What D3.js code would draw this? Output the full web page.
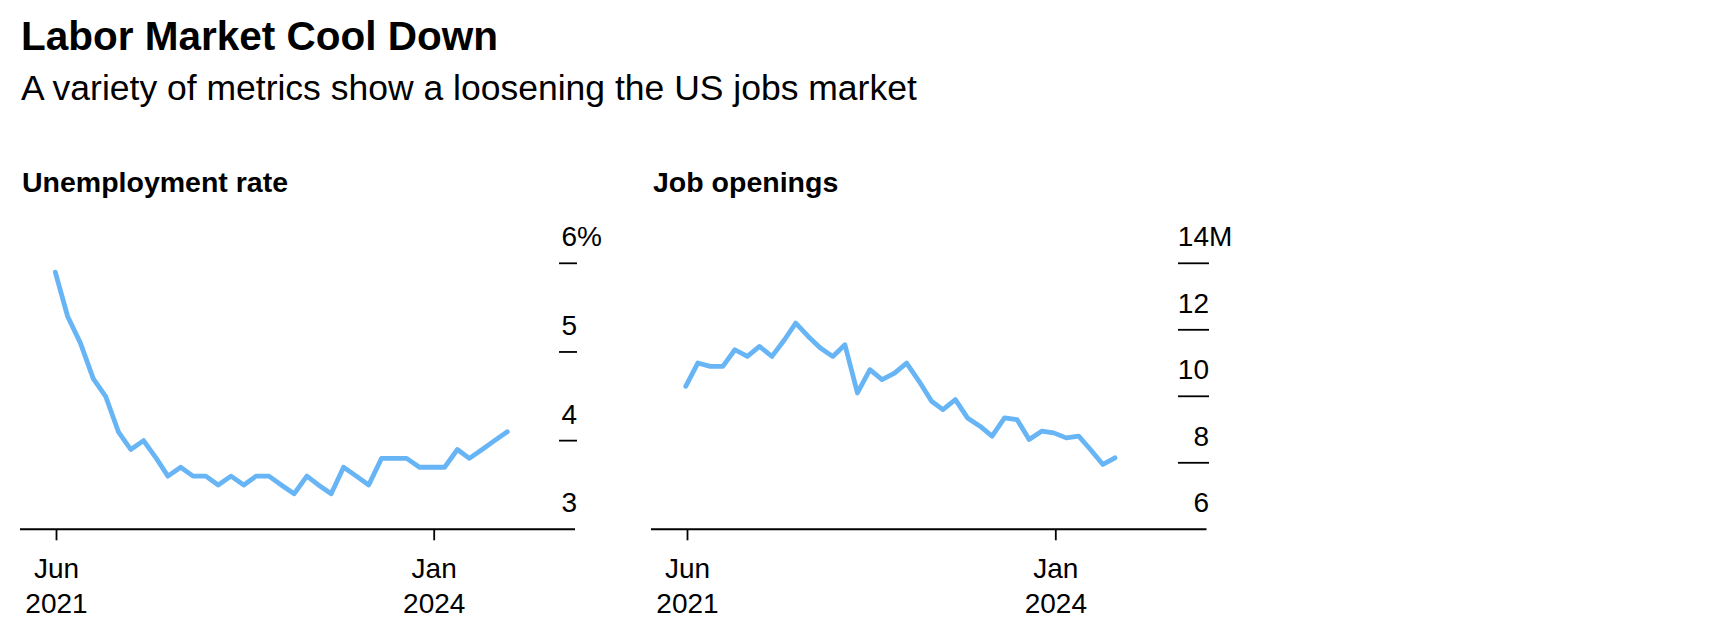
<!DOCTYPE html>
<html>
<head>
<meta charset="utf-8">
<script src="https://cdn.jsdelivr.net/npm/d3@7"></script>
<style>
  html, body { margin: 0; padding: 0; background: #fff; }
  svg { display: block; font-family: "Liberation Sans", Arial, Helvetica, sans-serif; }
</style>
</head>
<body>
<svg id="chart" width="1728" height="624"></svg>
<script>
// ---- Data ----
const titleText = "Labor Market Cool Down";
const subtitleText = "A variety of metrics show a loosening the US jobs market";

const unempTitle = "Unemployment rate";
const unempStart = "2021-06";            // monthly, Jun 2021 – Jun 2024
const unempValues = [5.9, 5.4, 5.1, 4.7, 4.5, 4.1, 3.9,
  4.0, 3.8, 3.6, 3.7, 3.6, 3.6, 3.5, 3.6, 3.5, 3.6, 3.6, 3.5,
  3.4, 3.6, 3.5, 3.4, 3.7, 3.6, 3.5, 3.8, 3.8, 3.8, 3.7, 3.7,
  3.7, 3.9, 3.8, 3.9, 4.0, 4.1];
const unempTicks = [3, 4, 5, 6];
const unempTickSuffix = "%";

const jobsTitle = "Job openings";
const jobsStart = "2021-06";             // monthly, Jun 2021 – May 2024, millions
const jobsValues = [10.3, 11.0, 10.9, 10.9, 11.4, 11.2, 11.5,
  11.2, 11.7, 12.2, 11.8, 11.45, 11.2, 11.55, 10.1, 10.8, 10.5, 10.7, 11.0,
  10.45, 9.85, 9.6, 9.9, 9.35, 9.1, 8.8, 9.35, 9.3, 8.7, 8.95, 8.9,
  8.75, 8.8, 8.4, 7.95, 8.15];
const jobsTicks = [6, 8, 10, 12, 14];
const jobsTickSuffix = "M";

const xTickDates = ["2021-06", "2024-01"];
const xTickLabels = [["Jun", "2021"], ["Jan", "2024"]];

// ---- Helpers ----
const parseMonth = d3.timeParse("%Y-%m");
function monthSeries(start, values) {
  const s = parseMonth(start);
  return values.map((v, i) => ({ date: d3.timeMonth.offset(s, i), value: v }));
}

const svg = d3.select("#chart");
const LINE_COLOR = "#68b5f6";
const FONT_TICK = 28;

svg.append("text").attr("x", 21).attr("y", 50)
  .attr("font-size", 40.5).attr("font-weight", 700).attr("fill", "#000")
  .text(titleText);
svg.append("text").attr("x", 21).attr("y", 100)
  .attr("font-size", 35.5).attr("fill", "#000")
  .text(subtitleText);

function drawPanel(opts) {
  const g = svg.append("g");
  const data = monthSeries(opts.start, opts.values);

  g.append("text").attr("x", opts.left + 2).attr("y", 192)
    .attr("font-size", 28.5).attr("font-weight", 700).attr("fill", "#000")
    .text(opts.title);

  const y = d3.scaleLinear().domain(opts.yDomain).range([opts.bottom, opts.top]);

  // axis tick positions
  const xAxisScale = d3.scaleTime()
    .domain(xTickDates.map(parseMonth))
    .range(opts.tickRange);
  // line positions
  const xLine = d3.scaleTime()
    .domain(d3.extent(data, d => d.date))
    .range(opts.lineRange);

  // y ticks (short underlines at right) + labels above
  const yg = g.append("g");
  opts.yTicks.forEach((t, i) => {
    if (t !== opts.yDomain[0]) {
      yg.append("line")
        .attr("x1", opts.yTickX[0]).attr("x2", opts.yTickX[1])
        .attr("y1", y(t)).attr("y2", y(t))
        .attr("stroke", "#000").attr("stroke-width", 1.8);
    }
    yg.append("text")
      .attr("x", opts.yTickX[1])
      .attr("y", y(t) - 17)
      .attr("font-size", FONT_TICK).attr("fill", "#000")
      .attr("text-anchor", "end")
      .text(t);
    if (i === opts.yTicks.length - 1) {
      yg.append("text")
        .attr("x", opts.yTickX[1])
        .attr("y", y(t) - 17)
        .attr("font-size", FONT_TICK).attr("fill", "#000")
        .text(opts.suffix);
    }
  });

  // x axis
  const xAxis = d3.axisBottom(xAxisScale)
    .tickValues(xTickDates.map(parseMonth))
    .tickSize(11)
    .tickFormat("");
  const ax = g.append("g").attr("transform", `translate(0,${opts.bottom})`).call(xAxis);
  ax.select(".domain").remove();
  ax.selectAll(".tick line").attr("stroke", "#000").attr("stroke-width", 1.8);
  g.append("line")
    .attr("x1", opts.left).attr("x2", opts.right)
    .attr("y1", opts.bottom).attr("y2", opts.bottom)
    .attr("stroke", "#000").attr("stroke-width", 1.9);

  ax.selectAll(".tick").each(function (d, i) {
    const t = d3.select(this).append("text")
      .attr("fill", "#000").attr("font-size", FONT_TICK)
      .attr("text-anchor", "middle");
    t.append("tspan").attr("x", 0).attr("y", 49).text(xTickLabels[i][0]);
    t.append("tspan").attr("x", 0).attr("y", 84).text(xTickLabels[i][1]);
  });

  const line = d3.line().x(d => xLine(d.date)).y(d => y(d.value));
  g.append("path").datum(data)
    .attr("d", line)
    .attr("fill", "none")
    .attr("stroke", LINE_COLOR)
    .attr("stroke-width", 4.8)
    .attr("stroke-linejoin", "round")
    .attr("stroke-linecap", "round");
}

drawPanel({
  title: unempTitle, start: unempStart, values: unempValues,
  yDomain: [3, 6], yTicks: unempTicks, suffix: unempTickSuffix,
  left: 20, right: 575, top: 263.3, bottom: 529.3,
  tickRange: [56, 433.7], lineRange: [55.3, 507.3],
  yTickX: [559, 577]
});

drawPanel({
  title: jobsTitle, start: jobsStart, values: jobsValues,
  yDomain: [6, 14], yTicks: jobsTicks, suffix: jobsTickSuffix,
  left: 651, right: 1206.5, top: 263.3, bottom: 529.3,
  tickRange: [687, 1055.3], lineRange: [685.7, 1115],
  yTickX: [1178, 1209]
});
</script>
</body>
</html>
